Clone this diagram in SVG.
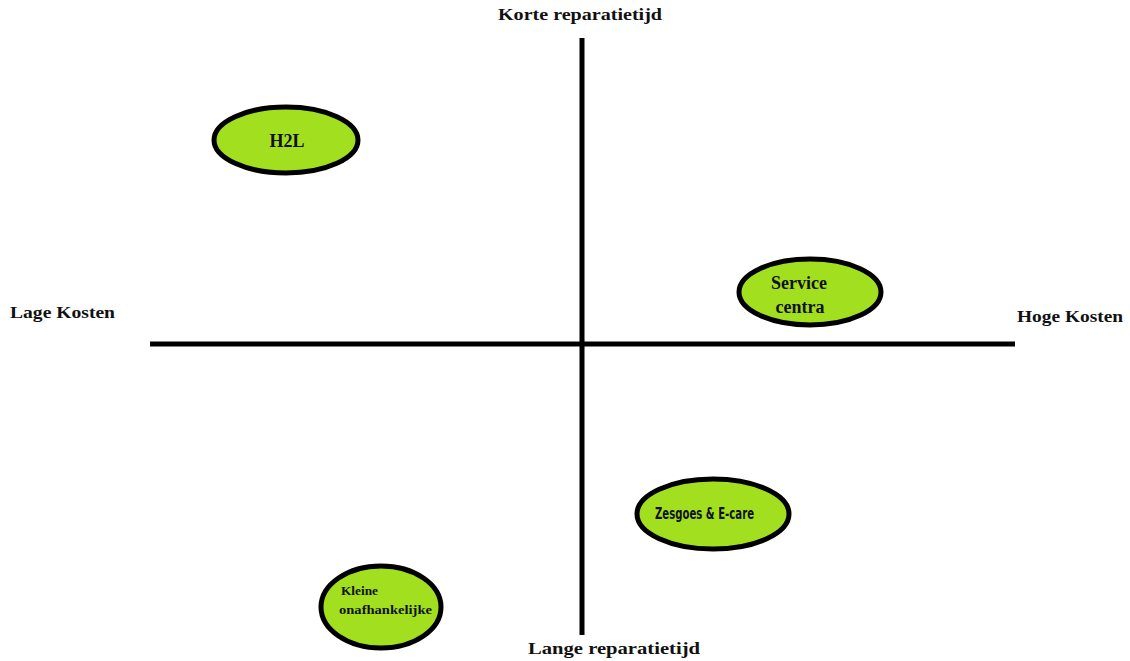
<svg xmlns="http://www.w3.org/2000/svg" width="1130" height="661" viewBox="0 0 1130 661">
<style>
.axis{stroke:#000;stroke-width:5;fill:none}
.node{fill:#a2e01f;stroke:#000;stroke-width:5}
.lbl{font-family:"Liberation Serif",serif;font-weight:bold;font-size:16px;fill:#111}
.nt{font-family:"Liberation Serif",serif;font-weight:bold;font-size:18px;fill:#111;text-anchor:middle}
.cond{font-family:"DejaVu Sans Condensed","DejaVu Sans",sans-serif;font-weight:bold;font-size:16px;fill:#111}
.small{font-family:"Liberation Serif",serif;font-weight:bold;font-size:12px;fill:#111}
</style>
<rect width="1130" height="661" fill="#fff"/>
<g id="connectors">
<line class="axis" x1="582" y1="38" x2="582" y2="635"/>
<line class="axis" x1="150" y1="344" x2="1015" y2="344"/>
</g>
<g id="labels">
<text class="lbl" x="498" y="20" textLength="164" lengthAdjust="spacingAndGlyphs">Korte reparatietijd</text>
<text class="lbl" x="10" y="318" textLength="105" lengthAdjust="spacingAndGlyphs">Lage Kosten</text>
<text class="lbl" x="1017" y="322" textLength="106" lengthAdjust="spacingAndGlyphs">Hoge Kosten</text>
<text class="lbl" x="528" y="654" textLength="172" lengthAdjust="spacingAndGlyphs">Lange reparatietijd</text>
</g>
<g id="node-h2l">
<ellipse class="node" cx="286" cy="140" rx="72" ry="33"/>
<text class="nt" x="287" y="147">H2L</text>
</g>
<g id="node-service">
<ellipse class="node" cx="810" cy="292" rx="71" ry="33"/>
<text class="nt" x="799" y="289">Service</text>
<text class="nt" x="800" y="313">centra</text>
</g>
<g id="node-zesgoes">
<ellipse class="node" cx="713" cy="514" rx="76" ry="35"/>
<text class="cond" x="655" y="519" textLength="99" lengthAdjust="spacingAndGlyphs">Zesgoes &amp; E-care</text>
</g>
<g id="node-kleine">
<ellipse class="node" cx="381" cy="607" rx="60" ry="41"/>
<text class="small" x="341" y="595" textLength="37" lengthAdjust="spacingAndGlyphs">Kleine</text>
<text class="small" x="339" y="614" textLength="93" lengthAdjust="spacingAndGlyphs">onafhankelijke</text>
</g>
</svg>
